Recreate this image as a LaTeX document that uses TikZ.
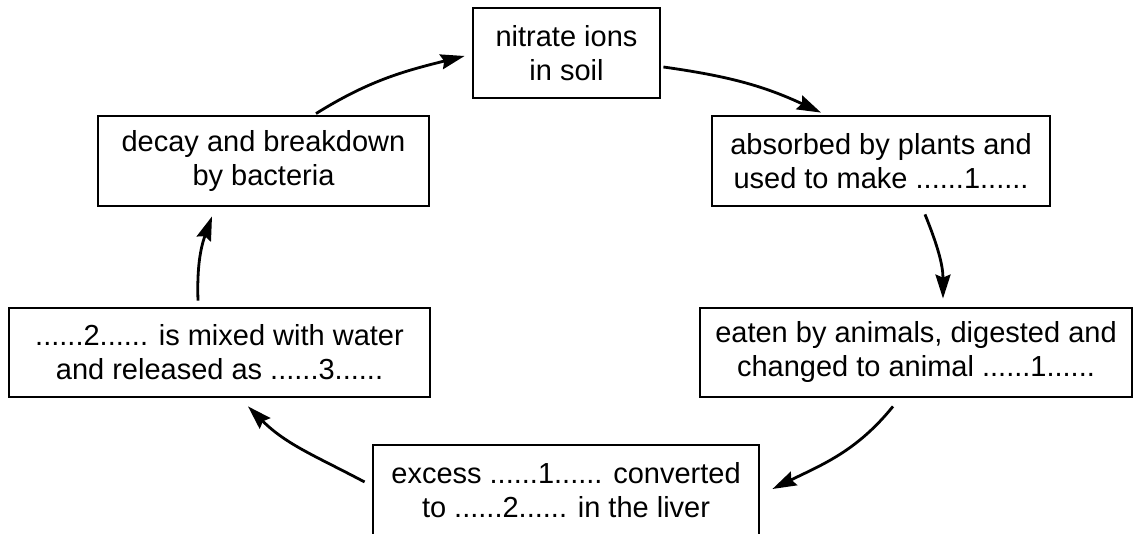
\documentclass[tikz,border=0pt]{standalone}
\usepackage{fontspec}
\setmainfont{Liberation Sans}
\usetikzlibrary{arrows.meta}

\begin{document}
\begin{tikzpicture}[x=1pt, y=1pt,
  >={Stealth[length=24pt,width=15pt,inset=3pt]},
  every node/.style={font=\fontsize{29}{34}\selectfont},
  box/.style={draw,rectangle,line width=2.8pt,align=center,inner sep=0pt},
  flow/.style={->,line width=2.8pt},
  ]
	\useasboundingbox (0,0) rectangle (1133,534);
	\node [box,minimum width=187pt,minimum height=90pt] (nitrate) at (566.5,481) {nitrate ions\\in soil} ;
	\node [box,minimum width=338pt,minimum height=90pt] (absorbed) at (881,373) {absorbed by plants and\\used to make ......1......} ;
	\node [box,minimum width=432pt,minimum height=89pt] (eaten) at (916,181.5) {eaten by animals, digested and\\changed to animal ......1......} ;
	\node [box,minimum width=386pt,minimum height=90pt] (excess) at (566,44) {excess ......1...... converted\\to ......2...... in the liver} ;
	\node [box,minimum width=421pt,minimum height=89pt] (mixed) at (219.5,181.5) {......2...... is mixed with water\\and released as ......3......} ;
	\node [box,minimum width=331pt,minimum height=90pt] (decay) at (263.5,373) {decay and breakdown\\by bacteria} ;
	% round the cycle
	\draw [flow] ([shift={(2,-14)}]nitrate.east) to[out=-8,in=155] ([shift={(-60,2)}]absorbed.north) ;
	\draw [flow] ([shift={(44,-7)}]absorbed.south) to[out=-68,in=90] ([shift={(27,8)}]eaten.north) ;
	\draw [flow] ([shift={(-23,-8)}]eaten.south) to[out=-129,in=26] ([shift={(12,1)}]excess.east) ;
	\draw [flow] ([shift={(-7,8)}]excess.west) to[out=152,in=-45] ([shift={(28.5,-8)}]mixed.south) ;
	\draw [flow] ([shift={(-21.5,6)}]mixed.north) to[out=92,in=-110] ([shift={(-51.5,-9)}]decay.south) ;
	\draw [flow] ([shift={(52.5,1)}]decay.north) to[out=32,in=-166] ([shift={(-7,-3)}]nitrate.west) ;
\end{tikzpicture}
\end{document}
